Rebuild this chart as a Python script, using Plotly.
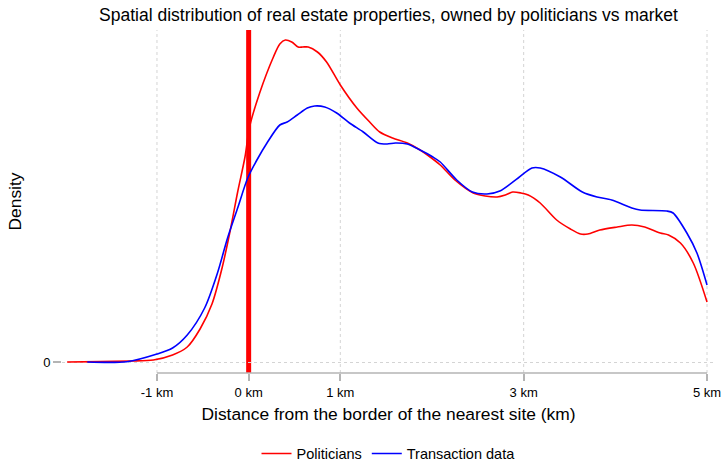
import plotly.graph_objects as go

# Kernel density estimates of distance to the nearest site (km)
pol_km = [-1.98, -1.62, -1.29, -1.04, -0.83, -0.67, -0.53, -0.40, -0.29, -0.20,
          -0.12, -0.04, 0.01, 0.12, 0.27, 0.34, 0.40, 0.47, 0.54, 0.59,
          0.65, 0.75, 0.85, 1.00, 1.18, 1.32, 1.43, 1.57, 1.73, 1.87,
          1.95, 2.09, 2.25, 2.45, 2.58, 2.71, 2.80, 2.88, 2.97,
          3.05, 3.18, 3.36, 3.51, 3.62, 3.70, 3.83, 4.02, 4.18, 4.32,
          4.49, 4.58, 4.71, 4.85, 5.00]
pol_density = [0.000, 0.0004, 0.001, 0.002, 0.007, 0.015, 0.033, 0.058, 0.094, 0.132,
               0.170, 0.205, 0.235, 0.269, 0.305, 0.318, 0.322, 0.320, 0.315, 0.315,
               0.315, 0.310, 0.300, 0.277, 0.254, 0.240, 0.230, 0.224, 0.219, 0.212,
               0.207, 0.197, 0.182, 0.169, 0.166, 0.165, 0.167, 0.170, 0.169,
               0.167, 0.159, 0.142, 0.133, 0.128, 0.128, 0.132, 0.135, 0.137, 0.135,
               0.129, 0.127, 0.119, 0.099, 0.060]

mkt_km = [-1.76, -1.33, -1.00, -0.83, -0.67, -0.48, -0.34, -0.23, -0.12,
          -0.01, 0.09, 0.20, 0.34, 0.42, 0.53, 0.64, 0.72, 0.83, 0.96,
          1.10, 1.25, 1.41, 1.51, 1.60, 1.73, 1.87, 2.01, 2.09, 2.27,
          2.44, 2.60, 2.74, 2.94, 3.09, 3.18, 3.40, 3.64, 3.80, 3.96,
          4.18, 4.27, 4.56, 4.63, 4.78, 4.89, 5.00]
mkt_density = [0.000, 0.0003, 0.008, 0.014, 0.027, 0.054, 0.089, 0.124, 0.154,
               0.184, 0.202, 0.219, 0.237, 0.240, 0.247, 0.254, 0.256, 0.255, 0.249,
               0.239, 0.230, 0.219, 0.218, 0.219, 0.218, 0.212, 0.205, 0.200, 0.182,
               0.170, 0.168, 0.171, 0.184, 0.194, 0.194, 0.185, 0.170, 0.165, 0.162,
               0.154, 0.152, 0.151, 0.149, 0.129, 0.109, 0.077]

x_ticks = [-1, 0, 1, 3, 5]
x_tick_labels = ["-1 km", "0 km", "1 km", "3 km", "5 km"]

FONT = "Liberation Sans, Arial, sans-serif"
GRID = "#d4d4d4"
AXIS = "#b4b4b4"

fig = go.Figure()
fig.add_trace(go.Scatter(x=pol_km, y=pol_density, mode="lines", name="Politicians",
                         line=dict(color="#ff0000", width=1.6, shape="spline", smoothing=0.8)))
fig.add_trace(go.Scatter(x=mkt_km, y=mkt_density, mode="lines", name="Transaction data",
                         line=dict(color="#0000ff", width=1.6, shape="spline", smoothing=0.8)))

# Vertical dotted grid at the labelled ticks (the border itself gets the red marker)
for t in x_ticks:
    if t != 0:
        fig.add_shape(type="line", x0=t, x1=t, xref="x", y0=0, y1=1, yref="paper",
                      line=dict(color=GRID, width=1, dash="dot"), layer="below")

# Border marker at 0 km
fig.add_shape(type="line", x0=0, x1=0, xref="x", y0=0, y1=1, yref="paper",
              line=dict(color="#ff0000", width=5), layer="below")
# x axis line spanning the labelled ticks
fig.add_shape(type="line", x0=-1, x1=5, xref="x", y0=0, y1=0, yref="paper",
              line=dict(color=AXIS, width=1.5), layer="above")

fig.update_layout(
    width=727, height=465,
    margin=dict(l=62, r=12, t=30, b=92, autoexpand=False),
    paper_bgcolor="white", plot_bgcolor="white",
    font=dict(family=FONT, size=13, color="#000000"),
    title=dict(text="Spatial distribution of real estate properties, owned by politicians vs market",
               x=0.5, xref="paper", xanchor="center", y=0.968, yanchor="middle",
               font=dict(size=17.5, family=FONT)),
    legend=dict(orientation="h", x=0.5, xanchor="center", y=-0.235, yanchor="middle",
                font=dict(size=14.5), itemwidth=30, bgcolor="rgba(0,0,0,0)"),
    xaxis=dict(range=[-2.036, 5.087], tickvals=x_ticks, ticktext=x_tick_labels,
               showgrid=False, zeroline=False, showline=False, automargin=False,
               ticks="outside", ticklen=7, tickcolor=AXIS, tickwidth=1.5,
               tickfont=dict(size=13),
               title=dict(text="Distance from the border of the nearest site (km)",
                          font=dict(size=17.4), standoff=9)),
    yaxis=dict(range=[-0.011, 0.332], tickvals=[0], ticktext=["0"],
               showgrid=True, gridcolor=GRID, griddash="dot", gridwidth=1,
               zeroline=False, showline=False, automargin=False,
               ticks="outside", ticklen=8, tickcolor=AXIS, tickwidth=1.5,
               tickfont=dict(size=13),
               title=dict(text="Density", font=dict(size=17.4), standoff=17)),
)

fig.write_html("out.html")
